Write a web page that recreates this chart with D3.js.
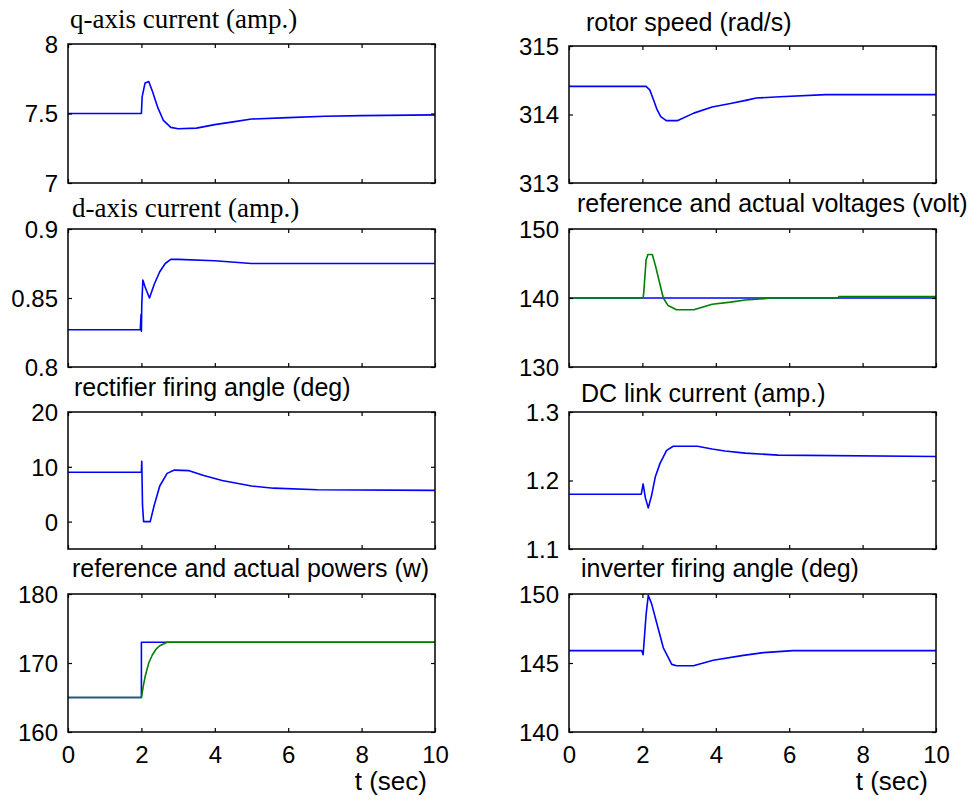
<!DOCTYPE html>
<html>
<head>
<meta charset="utf-8">
<script src="https://cdn.jsdelivr.net/npm/d3@7"></script>
<style>
  body { margin: 0; background: #fff; }
  svg { display: block; }
  text { font-family: "Liberation Sans", Arial, sans-serif; fill: #000; }
  .serif { font-family: "Liberation Serif", "Times New Roman", serif; }
</style>
</head>
<body>
<svg id="fig" width="980" height="801"></svg>
<script>
// Simulation response after a step at t = 2 s
const timeTicks = [0, 2, 4, 6, 8, 10];

// q-axis current (amp.)
const qTime    = [0, 2.0, 2.02, 2.1, 2.2, 2.3, 2.45, 2.6, 2.8, 3.0, 3.5, 4.0, 4.5, 5.0, 6.0, 7.0, 8.0, 10];
const qCurrent = [7.5, 7.5, 7.62, 7.72, 7.73, 7.66, 7.54, 7.45, 7.40, 7.39, 7.395, 7.42, 7.44, 7.46, 7.47, 7.48, 7.485, 7.49];

// d-axis current (amp.)
const dTime    = [0, 1.97, 1.99, 2.0, 2.01, 2.04, 2.1, 2.22, 2.35, 2.5, 2.65, 2.8, 3.0, 4.0, 5.0, 10];
const dCurrent = [0.827, 0.827, 0.838, 0.826, 0.845, 0.863, 0.858, 0.850, 0.860, 0.869, 0.875, 0.878, 0.878, 0.877, 0.875, 0.875];

// rectifier firing angle (deg)
const rectTime  = [0, 2.0, 2.01, 2.03, 2.06, 2.24, 2.35, 2.5, 2.7, 2.9, 3.3, 3.7, 4.2, 4.6, 5.0, 5.6, 6.8, 10];
const rectAngle = [9, 9, 11, 3, 0, 0, 3, 6.5, 8.8, 9.4, 9.3, 8.4, 7.5, 7.0, 6.5, 6.1, 5.8, 5.7];

// reference and actual powers (w)
const powerRefTime = [0, 2.0, 2.0, 10];
const powerRef     = [165, 165, 173, 173];
const powerActTime = [0, 2.0, 2.05, 2.1, 2.2, 2.3, 2.4, 2.5, 2.7, 10];
const powerAct     = [165, 165, 166.6, 168, 170, 171.2, 172, 172.5, 173, 173];

// rotor speed (rad/s)
const speedTime = [0, 2.1, 2.2, 2.3, 2.4, 2.5, 2.65, 2.95, 3.4, 3.9, 4.4, 4.85, 5.1, 5.75, 7.0, 10];
const rotorSpeed = [314.41, 314.41, 314.36, 314.22, 314.07, 313.97, 313.91, 313.91, 314.02, 314.11, 314.16, 314.21, 314.24, 314.26, 314.29, 314.29];

// reference and actual voltages (volt)
const voltRefTime = [0, 10];
const voltRef     = [140, 140];
const voltActTime = [0, 2.02, 2.04, 2.1, 2.15, 2.27, 2.35, 2.45, 2.57, 2.7, 2.93, 3.4, 3.9, 4.4, 4.8, 5.2, 5.5, 7.33, 7.35, 10];
const voltAct     = [140, 140, 141, 145.5, 146.3, 146.3, 144.8, 142.6, 140, 138.9, 138.3, 138.3, 139.1, 139.4, 139.7, 139.85, 140, 140, 140.2, 140.2];

// DC link current (amp.)
const dcTime    = [0, 1.97, 2.02, 2.08, 2.16, 2.25, 2.35, 2.48, 2.66, 2.84, 3.5, 3.9, 4.25, 4.8, 5.7, 10];
const dcCurrent = [1.18, 1.18, 1.195, 1.175, 1.16, 1.178, 1.205, 1.225, 1.244, 1.25, 1.25, 1.246, 1.243, 1.24, 1.237, 1.235];

// inverter firing angle (deg)
const invTime  = [0, 1.98, 2.02, 2.1, 2.16, 2.25, 2.39, 2.57, 2.8, 2.93, 3.39, 3.93, 4.75, 5.3, 6.1, 10];
const invAngle = [145.9, 145.9, 145.6, 148.5, 149.9, 149.3, 147.9, 146.1, 144.9, 144.8, 144.8, 145.2, 145.55, 145.75, 145.9, 145.9];

// y tick values per panel
const qTicks    = [7, 7.5, 8];
const dTicks    = [0.8, 0.85, 0.9];
const rectTicks = [0, 10, 20];
const powerTicks = [160, 170, 180];
const speedTicks = [313, 314, 315];
const voltTicks = [130, 140, 150];
const dcTicks   = [1.1, 1.2, 1.3];
const invTicks  = [140, 145, 150];

(function () {
  "use strict";

  const BLUE = "#0000ff";
  const GREEN = "#008000";

  const svg = d3.select("#fig");

  const pair = (xs, ys) => xs.map((t, i) => [t, ys[i]]);

  // --- Panel layout ---
  const cols = [{ x0: 68, x1: 435 }, { x0: 569, x1: 936 }];
  const panels = [
    { col: 0, top: 44, bottom: 183, domain: [7, 8], ticks: qTicks, fmt: d3.format(""),
      title: "q-axis current (amp.)", titleX: 70, titleY: 28, serif: true,
      series: [{ data: pair(qTime, qCurrent), color: BLUE }] },
    { col: 0, top: 229, bottom: 367, domain: [0.8, 0.9], ticks: dTicks, fmt: d3.format(""),
      title: "d-axis current (amp.)", titleX: 72, titleY: 217, serif: true,
      series: [{ data: pair(dTime, dCurrent), color: BLUE }] },
    { col: 0, top: 412, bottom: 549, domain: [-5, 20], ticks: rectTicks, fmt: d3.format(""),
      title: "rectifier firing angle (deg)", titleX: 74, titleY: 396,
      series: [{ data: pair(rectTime, rectAngle), color: BLUE }] },
    { col: 0, top: 594, bottom: 732, domain: [160, 180], ticks: powerTicks, fmt: d3.format(""),
      title: "reference and actual powers (w)", titleX: 72, titleY: 577, xLabels: true,
      series: [{ data: pair(powerRefTime, powerRef), color: BLUE },
               { data: pair(powerActTime, powerAct), color: GREEN }] },
    { col: 1, top: 46, bottom: 183, domain: [313, 315], ticks: speedTicks, fmt: d3.format(""),
      title: "rotor speed (rad/s)", titleX: 586, titleY: 31,
      series: [{ data: pair(speedTime, rotorSpeed), color: BLUE }] },
    { col: 1, top: 229, bottom: 367, domain: [130, 150], ticks: voltTicks, fmt: d3.format(""),
      title: "reference and actual voltages (volt)", titleX: 577, titleY: 212,
      series: [{ data: pair(voltRefTime, voltRef), color: BLUE },
               { data: pair(voltActTime, voltAct), color: GREEN }] },
    { col: 1, top: 412, bottom: 549, domain: [1.1, 1.3], ticks: dcTicks, fmt: d3.format(""),
      title: "DC link current (amp.)", titleX: 581, titleY: 402,
      series: [{ data: pair(dcTime, dcCurrent), color: BLUE }] },
    { col: 1, top: 594, bottom: 732, domain: [140, 150], ticks: invTicks, fmt: d3.format(""),
      title: "inverter firing angle (deg)", titleX: 581, titleY: 577, xLabels: true,
      series: [{ data: pair(invTime, invAngle), color: BLUE }] }
  ];

  const TICK = 4;

  panels.forEach(p => {
    const c = cols[p.col];
    const x = d3.scaleLinear().domain([0, 10]).range([c.x0, c.x1]);
    const y = d3.scaleLinear().domain(p.domain).range([p.bottom, p.top]);
    const g = svg.append("g");

    // Curves first, frame on top
    const line = d3.line().x(d => x(d[0])).y(d => y(d[1]));
    p.series.forEach(s => {
      g.append("path")
        .datum(s.data)
        .attr("d", line)
        .attr("fill", "none")
        .attr("stroke", s.color)
        .attr("stroke-width", 1.6)
        .attr("stroke-linejoin", "round");
    });

    // Axes with inward ticks on all four sides
    const bottomAx = g.append("g").attr("transform", `translate(0,${p.bottom})`)
      .call(d3.axisBottom(x).tickValues(timeTicks).tickSizeInner(-TICK).tickSizeOuter(0)
        .tickFormat(p.xLabels ? d3.format("d") : ""));
    const topAx = g.append("g").attr("transform", `translate(0,${p.top})`)
      .call(d3.axisTop(x).tickValues(timeTicks).tickSizeInner(-TICK).tickSizeOuter(0).tickFormat(""));
    const leftAx = g.append("g").attr("transform", `translate(${c.x0},0)`)
      .call(d3.axisLeft(y).tickValues(p.ticks).tickSizeInner(-TICK).tickSizeOuter(0).tickFormat(p.fmt));
    const rightAx = g.append("g").attr("transform", `translate(${c.x1},0)`)
      .call(d3.axisRight(y).tickValues(p.ticks).tickSizeInner(-TICK).tickSizeOuter(0).tickFormat(""));

    [bottomAx, topAx, leftAx, rightAx].forEach(a => {
      a.select(".domain").remove();
      a.selectAll("line").attr("stroke", "#000").attr("stroke-width", 1.2);
      a.attr("font-family", null).attr("font-size", null);
    });

    leftAx.selectAll("text")
      .attr("x", -10)
      .attr("dy", "0.35em")
      .style("font-size", "24px");

    bottomAx.selectAll("text")
      .attr("y", 14)
      .attr("dy", "0.71em")
      .style("font-size", "24px");

    // Frame
    g.append("rect")
      .attr("x", c.x0).attr("y", p.top)
      .attr("width", c.x1 - c.x0).attr("height", p.bottom - p.top)
      .attr("fill", "none")
      .attr("stroke", "#000")
      .attr("stroke-width", 1.5);

    // Title
    svg.append("text")
      .attr("class", p.serif ? "serif" : null)
      .attr("x", p.titleX).attr("y", p.titleY)
      .style("font-size", p.serif ? "27px" : "25px")
      .text(p.title);

    if (p.xLabels) {
      svg.append("text")
        .attr("x", c.x1 - 8).attr("y", 790)
        .attr("text-anchor", "end")
        .style("font-size", "26px")
        .text("t (sec)");
    }
  });
})();
</script>
</body>
</html>
